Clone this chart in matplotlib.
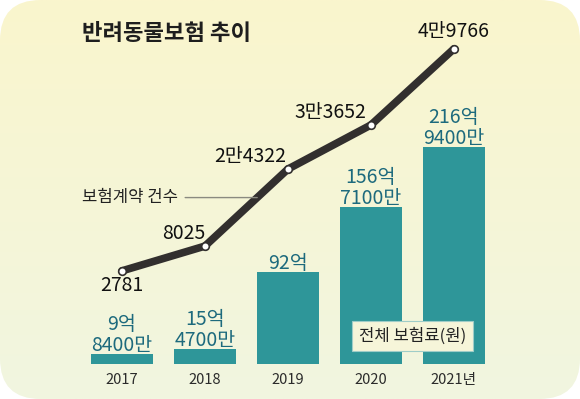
import numpy as np
import matplotlib
matplotlib.use("Agg")
import matplotlib.pyplot as plt
from matplotlib.patches import FancyBboxPatch

plt.rcParams['font.family'] = ['Noto Sans CJK KR', 'DejaVu Sans']

# data
years = ["2017", "2018", "2019", "2020", "2021년"]
premium = [9.84, 15.47, 92.0, 156.71, 216.94]          # 억원
premium_labels = ["9억\n8400만", "15억\n4700만", "92억", "156억\n7100만", "216억\n9400만"]
contracts = [2781, 8025, 24322, 33652, 49766]          # 건
contract_labels = ["2781", "8025", "2만4322", "3만3652", "4만9766"]

BAR = "#2e9699"
BAR_TXT = "#1d6a7d"
LINE = "#322f2e"

fig = plt.figure(figsize=(5.8, 3.99), dpi=100)
fig.patch.set_facecolor("white")

# rounded card with soft gradient
bg = fig.add_axes([0, 0, 1, 1])
bg.set_xlim(0, 1)
bg.set_ylim(0, 1)
bg.axis("off")
top = np.array([250, 245, 205]) / 255
bot = np.array([241, 246, 224]) / 255
t = np.linspace(0, 1, 200)[:, None]
grad = (top * (1 - t) + bot * t)[:, None, :].repeat(2, axis=1)
card = FancyBboxPatch((0.0, 0.0), 1.0, 1.0,
                      boxstyle="round,pad=0,rounding_size=0.07",
                      transform=bg.transAxes, facecolor="none", edgecolor="none",
                      mutation_aspect=580 / 399)
bg.add_patch(card)
im = bg.imshow(grad, extent=[0, 1, 0, 1], aspect="auto", origin="upper", zorder=0)
im.set_clip_path(card)

# chart axes: bars 1px per 억, line on twin axis
ax = fig.add_axes([0, 35 / 399, 1, 364 / 399])
ax.patch.set_alpha(0)
x = np.arange(len(years))
ax.bar(x, premium, width=0.75, color=BAR, zorder=2)
ax.set_xlim(-1.47, 5.52)
ax.set_ylim(0, 364)
ax.axis("off")

for xi, v, lab in zip(x, premium, premium_labels):
    ax.annotate(lab, (xi, v), xytext=(0, -2), textcoords="offset pixels",
                ha="center", va="bottom", fontsize=14, color=BAR_TXT,
                linespacing=1.0)

for xi, lab in zip(x, years):
    ax.annotate(lab, (xi, 0), xytext=(0, -16), textcoords="offset pixels",
                ha="center", va="center", fontsize=10.5, color="#2b2b2b")

ax.text(3.5, 28, "전체 보험료(원)", ha="center", va="center", fontsize=12,
        color="#222222", zorder=5,
        bbox=dict(boxstyle="square,pad=0.4", facecolor="#f6f5d9",
                  edgecolor="#9fcdc8", linewidth=0.8))

ax2 = ax.twinx()
ax2.set_ylim(-16931, 60106)
ax2.axis("off")
ax2.plot(x, contracts, color=LINE, lw=5.5, solid_capstyle="round",
         solid_joinstyle="round", marker="o", markersize=5.5,
         markerfacecolor="white", markeredgecolor=LINE, markeredgewidth=1.2,
         zorder=3)

offsets = [(0, -15, "center"), (0, 13, "right"), (-2, 13, "right"),
           (-5, 12, "right"), (0, 17, "center")]
for xi, v, lab, (dx, dy, ha) in zip(x, contracts, contract_labels, offsets):
    ax2.annotate(lab, (xi, v), xytext=(dx, dy), textcoords="offset pixels",
                 ha=ha, va="center", fontsize=14, color="#111111")

# legend pointer for the line
px = 1.63
py = np.interp(px, x, contracts)
ax2.annotate("보험계약 건수", (px, py), xytext=(-79, 0), textcoords="offset pixels",
             ha="right", va="center", fontsize=12, color="#222222",
             arrowprops=dict(arrowstyle="-", color="#8a8a80", lw=1,
                             shrinkA=3, shrinkB=0))

fig.text(82 / 580, 1 - 33 / 399, "반려동물보험 추이", ha="left", va="center",
         fontsize=16, fontweight="bold", color="#1e1e1e")

fig.savefig("out.png", dpi=100)
